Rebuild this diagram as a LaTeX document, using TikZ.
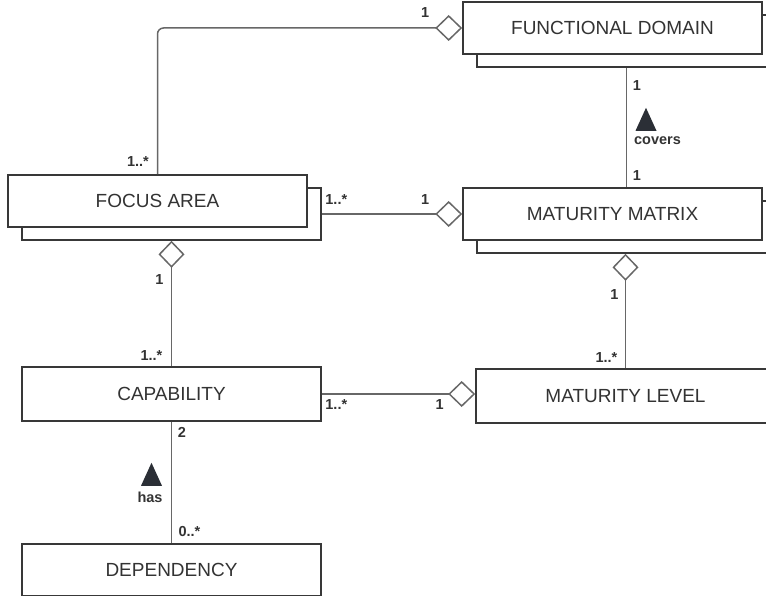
\documentclass[tikz,border=0pt]{standalone}
\usepackage{fontspec}
\setmainfont{Liberation Sans}
\usepackage{tikz}
\usetikzlibrary{arrows.meta}
\usetikzlibrary{positioning}
\usetikzlibrary{calc}

\definecolor{boxline}{HTML}{383838}
\definecolor{linkline}{HTML}{676767}
\definecolor{labeltext}{HTML}{333333}
\definecolor{markfill}{HTML}{2B2F36}

\begin{document}
\begin{tikzpicture}[
    x=1pt, y=-1pt,
    every node/.style={text=labeltext},
    classbox/.style={rectangle, draw=boxline, fill=white, line width=1.6pt, minimum width=299pt, minimum height=52pt, inner sep=0pt, font=\fontsize{19}{23}\selectfont},
    link/.style={draw=linkline, line width=1.5pt},
    agg/.style={link, -{Diamond[open, length=27pt, width=26pt]}},
    mult/.style={font=\fontsize{14.5}{17}\selectfont\bfseries, inner sep=0pt}]

\useasboundingbox (0,0) rectangle (766,596);

% Nodes
\node[classbox] (fd back) at (626.5,41) {};
\node[classbox] (fd) at (612.5,28) {FUNCTIONAL DOMAIN};
\node[classbox] (mm back) at (626.5,227) {};
\node[classbox] (mm) at (612.5,214) {MATURITY MATRIX};
\node[classbox] (fa back) at (171.5,214) {};
\node[classbox] (fa) at (157.5,201) {FOCUS AREA};
\node[classbox, minimum height=54pt] (cap) at (171.5,394) {CAPABILITY};
\node[classbox, minimum height=54pt] (ml) at (625.5,396) {MATURITY LEVEL};
\node[classbox] (dep) at (171.5,570) {DEPENDENCY};

% Arrows
\draw[agg, rounded corners=6pt] (fa.north) |- (fd.west);
\draw[agg] (fa back.east) -- (mm.west);
\draw[link] (fd back.south) -- (fd back.south |- mm.north);
\draw[agg] (cap.north) -- (fa back.south);
\draw[agg] (ml.north) -- (ml.north |- mm back.south);
\draw[agg] (cap.east) -- (cap.east -| ml.west);
\draw[link] (cap.south) -- (dep.north);

% Direction marks
\coordinate (covers mark) at ($(fd back.south)+(19.5,51.5)$);
\fill[markfill] ($(covers mark)+(-10.5,11.5)$) -- ++(21,0) -- ++(-10.5,-23) -- cycle;
\node[mult] at ($(covers mark)+(11.5,21.5)$) {covers};
\coordinate (has mark) at ($(cap.south)+(-20,52.5)$);
\fill[markfill] ($(has mark)+(-10.5,11.5)$) -- ++(21,0) -- ++(-10.5,-23) -- cycle;
\node[mult] at ($(has mark)+(-1.5,23.5)$) {has};

% Multiplicities
\node[mult] at ($(fa.north)+(-19.5,-13)$) {1..*};
\node[mult] at ($(fd.west)+(-37,-15)$) {1};
\node[mult] at ($(fa back.east)+(14.5,-14)$) {1..*};
\node[mult] at ($(mm.west)+(-37,-14)$) {1};
\node[mult] at ($(fd back.south)+(10.5,18)$) {1};
\node[mult] at ($(fd back.south |- mm.north)+(10.5,-12)$) {1};
\node[mult] at ($(fa back.south)+(-12,39)$) {1};
\node[mult] at ($(cap.north)+(-20,-11)$) {1..*};
\node[mult] at ($(mm back.south)+(-12,41)$) {1};
\node[mult] at ($(ml.north)+(-19,-10.5)$) {1..*};
\node[mult] at ($(cap.east)+(14.5,11)$) {1..*};
\node[mult] at ($(ml.west)+(-35.5,9)$) {1};
\node[mult] at ($(cap.south)+(10.5,11)$) {2};
\node[mult] at ($(dep.north)+(18,-12)$) {0..*};
\end{tikzpicture}
\end{document}
